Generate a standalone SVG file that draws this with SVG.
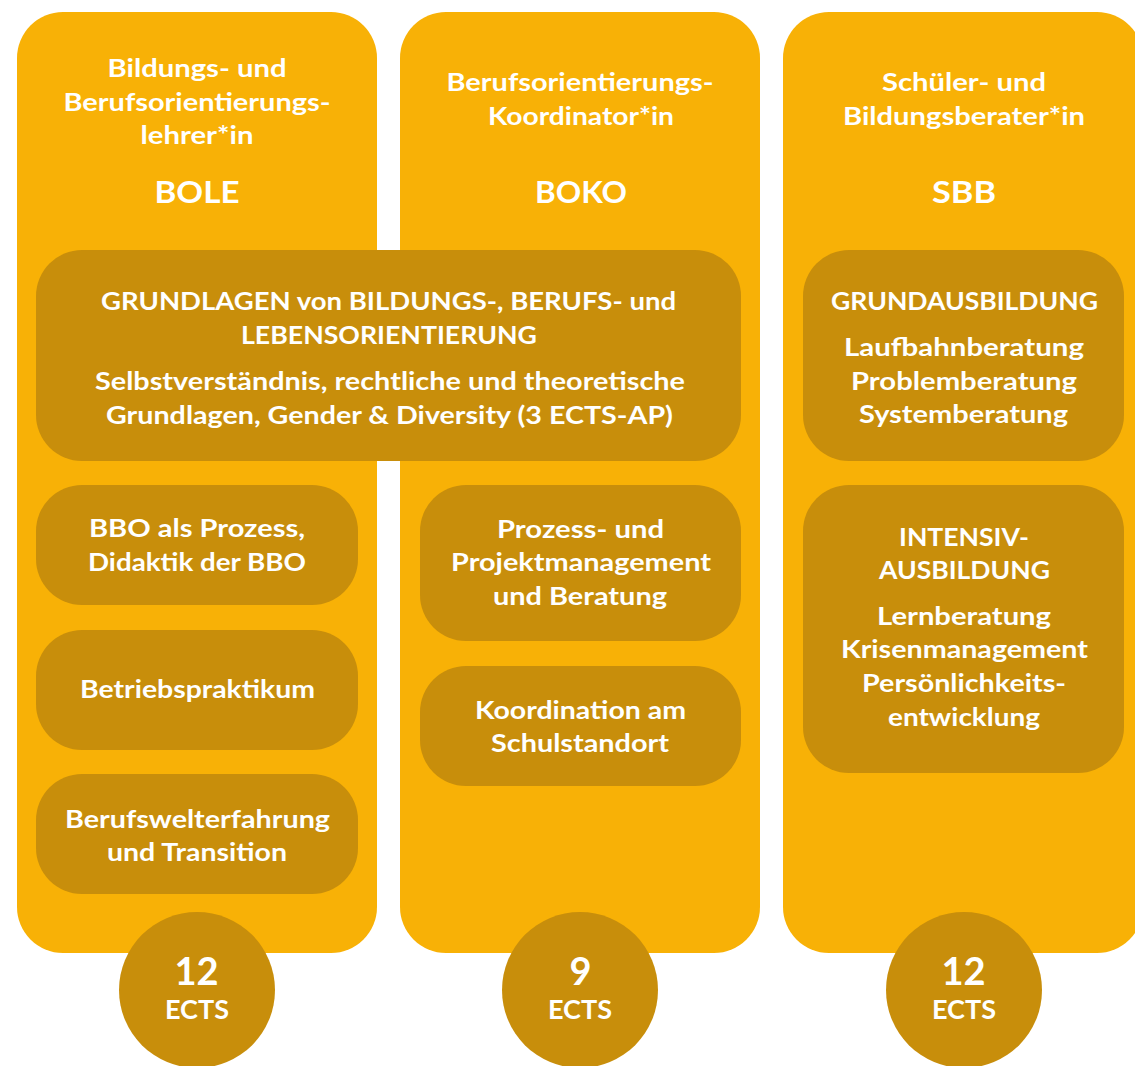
<svg xmlns="http://www.w3.org/2000/svg" width="1135" height="1066" viewBox="0 0 1135 1066">
<style>
.col{fill:#F8B106}
.box{fill:#C88E0B}
text{font-family:Lato,"Liberation Sans",sans-serif;font-weight:700;fill:#FFFFFF;text-anchor:middle}
.t{font-size:25px}
.h{font-size:31px}
.n{font-size:38px}
.e{font-size:26px}
</style>
<rect width="1135" height="1066" fill="#FFFFFF"/>
<g id="col-bole">
<rect class="col" x="17" y="12" width="360" height="941" rx="46" ry="46"/>
<text class="t" x="197" y="77" textLength="179" lengthAdjust="spacingAndGlyphs">Bildungs- und</text>
<text class="t" x="197" y="111" textLength="267" lengthAdjust="spacingAndGlyphs">Berufsorientierungs-</text>
<text class="t" x="197" y="144" textLength="113" lengthAdjust="spacingAndGlyphs">lehrer*in</text>
<text class="h" x="197" y="203" textLength="85" lengthAdjust="spacingAndGlyphs">BOLE</text>
</g>
<g id="col-boko">
<rect class="col" x="400" y="12" width="360" height="941" rx="46" ry="46"/>
<text class="t" x="580" y="91" textLength="267" lengthAdjust="spacingAndGlyphs">Berufsorientierungs-</text>
<text class="t" x="581" y="125" textLength="186" lengthAdjust="spacingAndGlyphs">Koordinator*in</text>
<text class="h" x="581" y="203" textLength="92" lengthAdjust="spacingAndGlyphs">BOKO</text>
</g>
<g id="col-sbb">
<rect class="col" x="783" y="12" width="360" height="941" rx="46" ry="46"/>
<text class="t" x="964" y="91" textLength="164" lengthAdjust="spacingAndGlyphs">Schüler- und</text>
<text class="t" x="964" y="125" textLength="242" lengthAdjust="spacingAndGlyphs">Bildungsberater*in</text>
<text class="h" x="964" y="203" textLength="64" lengthAdjust="spacingAndGlyphs">SBB</text>
</g>
<g id="grundlagen">
<rect class="box" x="36" y="250" width="705" height="211" rx="46" ry="46"/>
<text class="t" x="388.5" y="310" textLength="575" lengthAdjust="spacingAndGlyphs">GRUNDLAGEN von BILDUNGS-, BERUFS- und</text>
<text class="t" x="389" y="344" textLength="296" lengthAdjust="spacingAndGlyphs">LEBENSORIENTIERUNG</text>
<text class="t" x="390" y="390" textLength="590" lengthAdjust="spacingAndGlyphs">Selbstverständnis, rechtliche und theoretische</text>
<text class="t" x="389.5" y="424" textLength="567" lengthAdjust="spacingAndGlyphs">Grundlagen, Gender &amp; Diversity (3 ECTS-AP)</text>
</g>
<g id="bbo">
<rect class="box" x="36" y="485" width="322" height="120" rx="46" ry="46"/>
<text class="t" x="197" y="537" textLength="216" lengthAdjust="spacingAndGlyphs">BBO als Prozess,</text>
<text class="t" x="197" y="571" textLength="218" lengthAdjust="spacingAndGlyphs">Didaktik der BBO</text>
</g>
<g id="betriebspraktikum">
<rect class="box" x="36" y="630" width="322" height="120" rx="46" ry="46"/>
<text class="t" x="197.5" y="698" textLength="235" lengthAdjust="spacingAndGlyphs">Betriebspraktikum</text>
</g>
<g id="berufswelt">
<rect class="box" x="36" y="774" width="322" height="120" rx="46" ry="46"/>
<text class="t" x="197.5" y="828" textLength="265" lengthAdjust="spacingAndGlyphs">Berufswelterfahrung</text>
<text class="t" x="197" y="861" textLength="180" lengthAdjust="spacingAndGlyphs">und Transition</text>
</g>
<g id="prozess">
<rect class="box" x="420" y="485" width="321" height="156" rx="46" ry="46"/>
<text class="t" x="580.5" y="538" textLength="167" lengthAdjust="spacingAndGlyphs">Prozess- und</text>
<text class="t" x="581" y="571" textLength="260" lengthAdjust="spacingAndGlyphs">Projektmanagement</text>
<text class="t" x="580" y="605" textLength="174" lengthAdjust="spacingAndGlyphs">und Beratung</text>
</g>
<g id="koordination">
<rect class="box" x="420" y="666" width="321" height="120" rx="46" ry="46"/>
<text class="t" x="580.5" y="719" textLength="211" lengthAdjust="spacingAndGlyphs">Koordination am</text>
<text class="t" x="580" y="752" textLength="178" lengthAdjust="spacingAndGlyphs">Schulstandort</text>
</g>
<g id="grundausbildung">
<rect class="box" x="803" y="250" width="321" height="211" rx="46" ry="46"/>
<text class="t" x="964.5" y="310" textLength="267" lengthAdjust="spacingAndGlyphs">GRUNDAUSBILDUNG</text>
<text class="t" x="964" y="356" textLength="240" lengthAdjust="spacingAndGlyphs">Laufbahnberatung</text>
<text class="t" x="964" y="390" textLength="226" lengthAdjust="spacingAndGlyphs">Problemberatung</text>
<text class="t" x="963.5" y="423" textLength="209" lengthAdjust="spacingAndGlyphs">Systemberatung</text>
</g>
<g id="intensivausbildung">
<rect class="box" x="803" y="485" width="321" height="288" rx="46" ry="46"/>
<text class="t" x="964" y="546" textLength="130" lengthAdjust="spacingAndGlyphs">INTENSIV-</text>
<text class="t" x="964.5" y="579" textLength="171" lengthAdjust="spacingAndGlyphs">AUSBILDUNG</text>
<text class="t" x="964" y="625" textLength="174" lengthAdjust="spacingAndGlyphs">Lernberatung</text>
<text class="t" x="964.5" y="658" textLength="247" lengthAdjust="spacingAndGlyphs">Krisenmanagement</text>
<text class="t" x="964" y="692" textLength="204" lengthAdjust="spacingAndGlyphs">Persönlichkeits-</text>
<text class="t" x="964" y="726" textLength="152" lengthAdjust="spacingAndGlyphs">entwicklung</text>
</g>
<g id="ects-bole">
<circle class="box" cx="197" cy="990" r="78"/>
<text class="n" x="196.5" y="985">12</text>
<text class="e" x="197" y="1019" textLength="64" lengthAdjust="spacingAndGlyphs">ECTS</text>
</g>
<g id="ects-boko">
<circle class="box" cx="580" cy="990" r="78"/>
<text class="n" x="580.5" y="985">9</text>
<text class="e" x="580" y="1019" textLength="64" lengthAdjust="spacingAndGlyphs">ECTS</text>
</g>
<g id="ects-sbb">
<circle class="box" cx="964" cy="990" r="78"/>
<text class="n" x="963.5" y="985">12</text>
<text class="e" x="964" y="1019" textLength="64" lengthAdjust="spacingAndGlyphs">ECTS</text>
</g>
</svg>
